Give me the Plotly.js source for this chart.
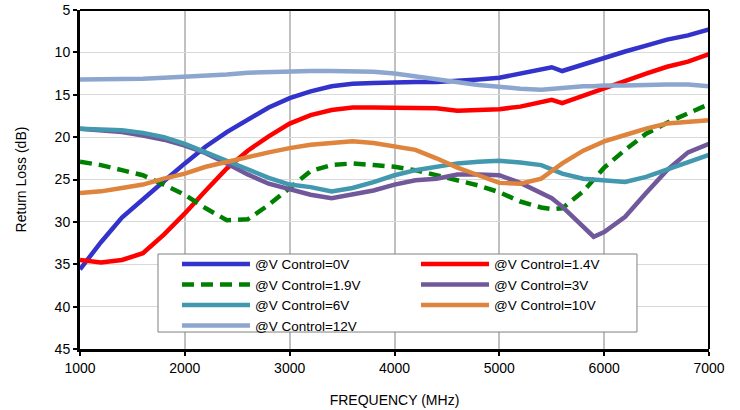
<!DOCTYPE html>
<html>
<head>
<meta charset="utf-8">
<script src="https://cdn.plot.ly/plotly-3.0.1.min.js"></script>
<style>html,body{margin:0;padding:0;background:#fff;}#chart{width:740px;height:410px;}</style>
</head>
<body>
<div id="chart"></div>
<script>
// Frequency points (MHz)
const freq = [1000,1200,1400,1600,1800,2000,2200,2400,2600,2800,3000,3200,3400,3600,3800,4000,4200,4400,4600,4800,5000,5200,5400,5500,5600,5800,5900,6000,6200,6400,6600,6800,7000];

// Return loss (dB) per control voltage
const rl_0V   = [35.6,32.4,29.5,27.3,25.2,23.1,21.1,19.4,17.9,16.5,15.4,14.6,14.0,13.7,13.6,13.5,13.5,13.5,13.4,13.2,13.0,12.5,12.0,11.75,12.2,11.4,11.0,10.7,9.9,9.2,8.5,8.0,7.3];
const rl_1_4V = [34.5,34.8,34.5,33.7,31.5,29.0,26.3,23.7,21.6,19.9,18.4,17.4,16.8,16.5,16.5,16.5,16.5,16.6,16.9,16.8,16.7,16.4,15.9,15.6,16.0,15.1,14.7,14.3,13.4,12.5,11.7,11.1,10.2];
const rl_1_9V = [22.9,23.3,23.9,24.5,25.6,26.8,28.4,29.8,29.7,28.0,26.0,24.0,23.3,23.1,23.3,23.5,23.9,24.5,25.1,25.7,26.5,27.6,28.3,28.5,28.4,26.4,25.0,23.6,21.5,19.6,18.3,17.2,16.1];
const rl_3V   = [19.0,19.2,19.4,19.8,20.3,21.0,21.9,23.1,24.4,25.5,26.2,26.8,27.2,26.8,26.3,25.6,25.1,24.9,24.4,24.4,24.5,25.4,26.6,27.2,28.2,30.6,31.75,31.2,29.4,26.6,23.9,21.8,20.8];
const rl_6V   = [19.0,19.1,19.2,19.5,20.0,20.8,21.8,22.9,23.9,24.8,25.6,25.9,26.4,26.0,25.3,24.5,23.9,23.5,23.1,22.9,22.8,23.0,23.3,23.8,24.3,24.9,25.0,25.1,25.3,24.7,23.8,22.9,22.1];
const rl_10V  = [26.6,26.4,26.0,25.6,24.9,24.3,23.5,22.9,22.3,21.8,21.3,20.9,20.7,20.5,20.7,21.1,21.5,22.5,23.6,24.5,25.4,25.5,24.9,24.0,23.1,21.6,21.1,20.5,19.75,19.0,18.4,18.2,18.0];
const rl_12V  = [13.2,13.2,13.2,13.1,13.0,12.9,12.8,12.6,12.4,12.3,12.2,12.2,12.2,12.2,12.3,12.5,12.85,13.25,13.6,13.85,14.05,14.3,14.4,14.3,14.1,14.0,14.0,13.9,13.9,13.8,13.8,13.8,14.0];

const seriesNames = ['@V Control=0V','@V Control=1.4V','@V Control=1.9V','@V Control=3V','@V Control=6V','@V Control=10V','@V Control=12V'];
const seriesData = [rl_0V, rl_1_4V, rl_1_9V, rl_3V, rl_6V, rl_10V, rl_12V];
const xTicks = [1000,2000,3000,4000,5000,6000,7000];
const yTicks = [5,10,15,20,25,30,35,40,45];

const styles = [
  {color:'#3333CC', dash:'solid'},
  {color:'#FF0000', dash:'solid'},
  {color:'#008000', dash:'12px,7px'},
  {color:'#71589A', dash:'solid'},
  {color:'#4198AF', dash:'solid'},
  {color:'#DE843C', dash:'solid'},
  {color:'#8DA6CF', dash:'solid'}
];

const traces = seriesData.map((d,i)=>({
  x: freq, y: d, name: seriesNames[i], type:'scatter', mode:'lines',
  line:{color:styles[i].color, width:4.5, dash:styles[i].dash}
}));

const font = {family:'"Liberation Sans", Arial, sans-serif', size:14, color:'#000'};
const legendFont = {family:'"Liberation Sans", Arial, sans-serif', size:13.5, color:'#000'};

const layout = {
  width:740, height:410,
  margin:{l:80, r:31, t:10, b:61},
  paper_bgcolor:'#fff', plot_bgcolor:'#fff',
  font: font,
  showlegend:true,
  legend:{
    orientation:'h', x:0.1542, xanchor:'left', y:0.296, yanchor:'top',
    bgcolor:'rgba(0,0,0,0)', borderwidth:0,
    itemwidth:68, entrywidth:156, font:legendFont, traceorder:'normal'
  },
  xaxis:{
    range:[1000,7000], tickvals:xTicks, ticktext:xTicks.map(String),
    showgrid:true, gridcolor:'#c0c0c0', gridwidth:2,
    showline:true, linecolor:'#000', linewidth:3,
    ticks:'outside', ticklen:4, tickwidth:2, tickcolor:'#000',
    zeroline:false, tickfont:font,
    title:{text:'FREQUENCY (MHz)', font:font, standoff:21}
  },
  yaxis:{
    range:[45,5], tickvals:yTicks, ticktext:yTicks.map(String),
    showgrid:true, gridcolor:'#d9d9d9', gridwidth:1,
    showline:true, linecolor:'#000', linewidth:3,
    ticks:'outside', ticklen:4, tickwidth:2, tickcolor:'#000',
    zeroline:false, tickfont:font,
    title:{text:'Return Loss (dB)', font:font, standoff:25}
  },
  shapes:[
    {type:'line', xref:'paper', yref:'paper', x0:0, x1:1, y0:1, y1:1, line:{color:'#000', width:2}, layer:'above'},
    {type:'line', xref:'paper', yref:'paper', x0:1, x1:1, y0:0, y1:1, line:{color:'#000', width:2}, layer:'above'},
    {type:'rect', xref:'paper', yref:'paper', x0:0.124, x1:0.8855, y0:0.0501, y1:0.2802, fillcolor:'#fff', line:{color:'#808080', width:1}, layer:'above'}
  ]
};

Plotly.newPlot('chart', traces, layout, {staticPlot:true, displayModeBar:false});
</script>
</body>
</html>
